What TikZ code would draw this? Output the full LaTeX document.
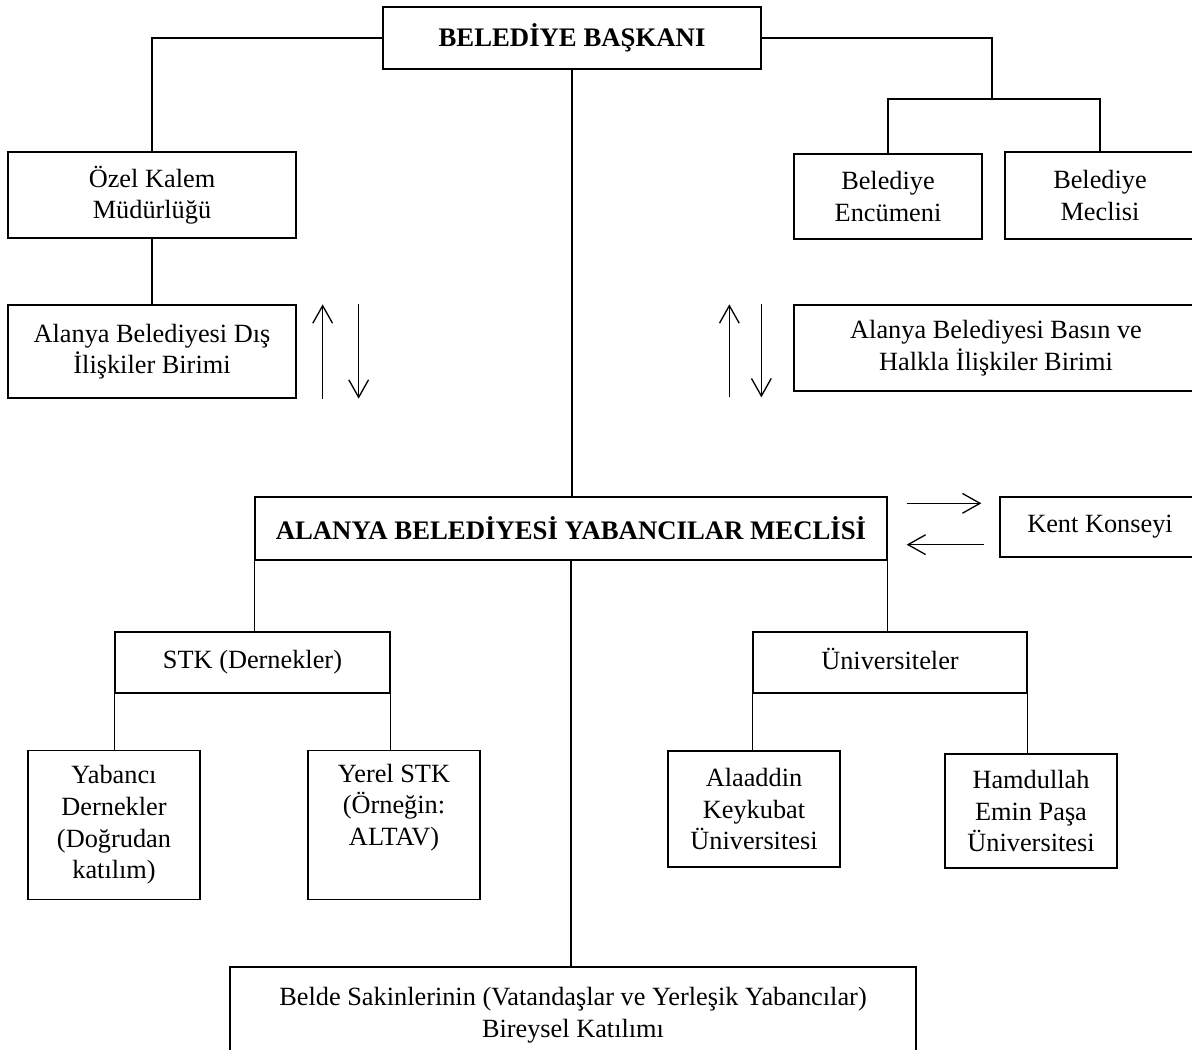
\documentclass[tikz,border=0pt]{standalone}
\usepackage{fontspec}
\setmainfont{Liberation Serif}
\usetikzlibrary{arrows.meta,calc}

% one pixel of the original drawing
\newdimen\upx
\upx=0.456pt

\begin{document}
\begin{tikzpicture}[x=\upx, y=-\upx, >={Straight Barb[length=8pt,width=9pt]},
        kutu/.style={draw, line width=0.6pt, inner sep=0pt, align=center,
            font=\fontsize{12}{14.4}\selectfont},
        baslik/.style={kutu, font=\fontsize{12.2}{14.4}\selectfont\bfseries},
        cizgi/.style={line width=0.6pt}]

        % the page, 1192 x 1050 pixels
        \clip (0,0) rectangle (1192,1050);

        % the box at the top
        \node[baslik, minimum width=378\upx, minimum height=62\upx] (baskan) at (572,38) {BELEDİYE BAŞKANI};

        % the two boxes on the left, one under the other
        \node[kutu, minimum width=288\upx, minimum height=86\upx] (ozel) at (152,195) {Özel Kalem\\Müdürlüğü};
        \node[kutu, minimum width=288\upx, minimum height=93\upx] (dis) at (152,351.5) {Alanya Belediyesi Dış\\İlişkiler Birimi};

        % the two boxes on the right, cut by the page
        \node[kutu, minimum width=188\upx, minimum height=85\upx] (encumeni) at (888,196.5) {Belediye\\Encümeni};
        \node[kutu, minimum width=190\upx, minimum height=87\upx] (meclisi) at (1100,195.5) {Belediye\\Meclisi};
        \node[kutu, minimum width=404\upx, minimum height=86\upx] (basin) at (996,348) {Alanya Belediyesi Basın ve\\Halkla İlişkiler Birimi};

        % the box in the middle -> Yabancılar Meclisi
        \node[baslik, minimum width=632\upx, minimum height=63\upx] (meclis) at (571,528.5) {ALANYA BELEDİYESİ YABANCILAR MECLİSİ};
        \node[kutu, minimum width=200\upx, minimum height=60\upx] (kent) at (1100,527) {Kent Konseyi};

        % the two groups under it
        \node[kutu, minimum width=275\upx, minimum height=61\upx] (stk) at (252.5,662.5) {STK (Dernekler)};
        \node[kutu, minimum width=274\upx, minimum height=61\upx, text height=8.2pt, text depth=2.2pt] (univ) at (890,662.5) {Üniversiteler};

        \node[kutu, minimum width=172\upx, minimum height=149\upx] (yabanci) at (114,825) {Yabancı\\Dernekler\\(Doğrudan\\katılım)};
        \node[kutu, minimum width=172\upx, minimum height=149\upx] (yerel) at (394,825) {Yerel STK\\(Örneğin:\\ALTAV)\\\strut};
        \node[kutu, minimum width=172\upx, minimum height=116\upx] (alaaddin) at (754,809) {Alaaddin\\Keykubat\\Üniversitesi};
        \node[kutu, minimum width=172\upx, minimum height=114\upx] (hamdullah) at (1031,811) {Hamdullah\\Emin Paşa\\Üniversitesi};

        % the box at the bottom, cut by the page
        \node[kutu, minimum width=686\upx, minimum height=96\upx] (belde) at (573,1015) {Belde Sakinlerinin (Vatandaşlar ve Yerleşik Yabancılar)\\Bireysel Katılımı};

        % lines from the top box
        \draw[cizgi] (baskan.west) -| (ozel.north);
        \draw[cizgi] (ozel) -- (dis);
        \coordinate (kurul) at (992,99);
        \draw[cizgi] (baskan.east) -| (kurul);
        \draw[cizgi] (encumeni.north) |- (kurul) -| (meclisi.north);
        \draw[cizgi] (baskan.south) -- (baskan.south |- meclis.north);

        % the arrows beside the Dış and Basın boxes
        \draw[cizgi, ->] ($(dis.south east)+(26,0)$) -- ($(dis.north east)+(26,0)$);
        \draw[cizgi, ->] ($(dis.north east)+(62,0)$) -- ($(dis.south east)+(62,0)$);
        \draw[cizgi, ->] ($(basin.north west)+(-64,93)$) -- ($(basin.north west)+(-64,0)$);
        \draw[cizgi, ->] ($(basin.north west)+(-32,0)$) -- ($(basin.north west)+(-32,93)$);

        % the arrows between Yabancılar Meclisi and Kent Konseyi
        \draw[cizgi, ->] ($(meclis.north east)+(19,7)$) -- ($(kent.north west)+(-18,7)$);
        \draw[cizgi, ->] ($(kent.south west)+(-15,-13)$) -- ($(meclis.south east)+(19,-16)$);

        % lines under Yabancılar Meclisi
        \draw[cizgi] (meclis.south west) -- (meclis.south west |- stk.north);
        \draw[cizgi] (meclis.south east) -- (meclis.south east |- univ.north);
        \draw[cizgi] (meclis.south) -- (meclis.south |- belde.north);

        % lines under the two groups
        \draw[cizgi] (stk.south west) -- (stk.south west |- yabanci.north);
        \draw[cizgi] (stk.south east) -- (stk.south east |- yerel.north);
        \draw[cizgi] (univ.south west) -- (univ.south west |- alaaddin.north);
        \draw[cizgi] (univ.south east) -- (univ.south east |- hamdullah.north);
\end{tikzpicture}
\end{document}
